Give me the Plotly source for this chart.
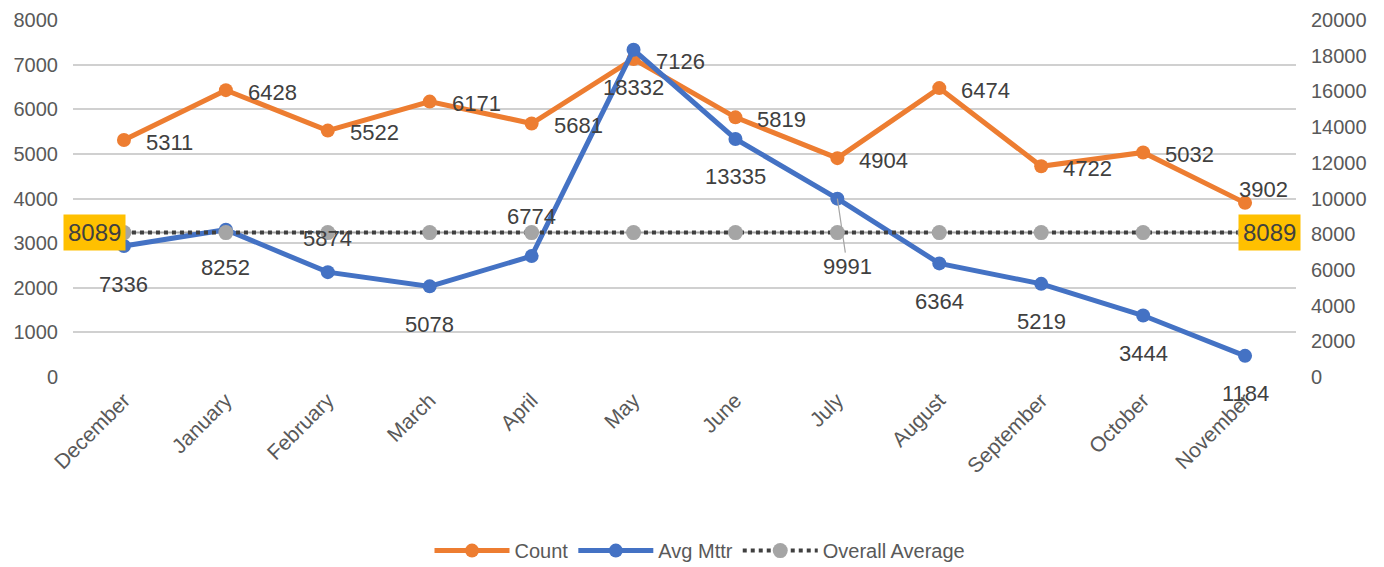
import plotly.graph_objects as go

months = ["December", "January", "February", "March", "April", "May", "June",
          "July", "August", "September", "October", "November"]
count = [5311, 6428, 5522, 6171, 5681, 7126, 5819, 4904, 6474, 4722, 5032, 3902]
avg_mttr = [7336, 8252, 5874, 5078, 6774, 18332, 13335, 9991, 6364, 5219, 3444, 1184]
overall_avg = [8089] * len(months)
left_ticks = [0, 1000, 2000, 3000, 4000, 5000, 6000, 7000, 8000]
right_ticks = [0, 2000, 4000, 6000, 8000, 10000, 12000, 14000, 16000, 18000, 20000]

ORANGE = "#ED7D31"
BLUE = "#4472C4"
GRAY = "#A5A5A5"
FONT = "Liberation Sans, Arial, sans-serif"
LABEL_FONT = dict(family=FONT, size=22, color="#404040")

fig = go.Figure()
fig.add_trace(go.Scatter(x=months, y=overall_avg, yaxis="y2", mode="lines",
                         line=dict(color=GRAY, width=2), showlegend=False, hoverinfo="skip"))
fig.add_trace(go.Scatter(x=months, y=count, name="Count", mode="lines+markers",
                         line=dict(color=ORANGE, width=5), marker=dict(size=14, color=ORANGE)))
fig.add_trace(go.Scatter(x=months, y=avg_mttr, name="Avg Mttr", yaxis="y2", mode="lines+markers",
                         line=dict(color=BLUE, width=5), marker=dict(size=14, color=BLUE)))
fig.add_trace(go.Scatter(x=months, y=overall_avg, name="Overall Average", yaxis="y2",
                         mode="lines+markers",
                         line=dict(color="#404040", width=4, dash="dot"),
                         marker=dict(size=15, color=GRAY)))

annotations = []
# Count labels
for i, (m, v) in enumerate(zip(months, count)):
    last = i == len(months) - 1
    ys = 13 if last else -2
    xs = -8 if last else 20
    annotations.append(dict(x=m, y=v, xref="x", yref="y", text=str(v), showarrow=False,
                            xanchor="left", yanchor="middle", xshift=xs, yshift=ys,
                            font=LABEL_FONT))
# Avg Mttr labels
above = {"February": 34, "April": 40}
for m, v in zip(months, avg_mttr):
    if m == "July":
        annotations.append(dict(x=m, y=v, xref="x", yref="y2", text=str(v), showarrow=True,
                                arrowhead=0, arrowwidth=1.2, arrowcolor=GRAY, ax=10, ay=68,
                                font=LABEL_FONT, standoff=0))
        continue
    ys = above.get(m, -38)
    annotations.append(dict(x=m, y=v, xref="x", yref="y2", text=str(v), showarrow=False,
                            yshift=ys, font=LABEL_FONT))
# Overall average boxes
for m, v, xs in [(months[0], overall_avg[0], -29), (months[-1], overall_avg[-1], 24)]:
    annotations.append(dict(x=m, y=v, xref="x", yref="y2", text=str(v), showarrow=False,
                            xshift=xs, bgcolor="#FFC000", borderpad=4,
                            font=dict(family=FONT, size=24, color="#404040")))

tick_font = dict(family=FONT, size=20, color="#595959")
fig.update_layout(
    width=1384, height=567,
    margin=dict(l=65, r=96, t=12, b=198, autoexpand=False),
    plot_bgcolor="white", paper_bgcolor="white",
    xaxis=dict(showgrid=False, tickangle=-45, ticks="", automargin=False,
               range=[-0.5, len(months) - 0.5], ticklabelstandoff=6,
               tickfont=dict(family=FONT, size=21, color="#595959"),
               showline=False),
    yaxis=dict(range=[0, 8000], tickvals=left_ticks, showgrid=True, gridcolor="#D0D0D0",
               gridwidth=2, zeroline=False, tickfont=tick_font, ticks="",
               ticklabelstandoff=14, automargin=False),
    yaxis2=dict(range=[0, 20000], tickvals=right_ticks, overlaying="y", side="right",
                showgrid=False, zeroline=False, tickfont=tick_font, ticks="",
                tickformat="d", ticklabelstandoff=14, automargin=False),
    legend=dict(orientation="h", x=0.5, xanchor="center", xref="container",
                y=0.043, yanchor="middle", yref="container",
                font=dict(family="Liberation Sans Narrow, Arial Narrow, Liberation Sans, sans-serif",
                          size=20, color="#595959"),
                itemwidth=75),
    annotations=annotations,
    showlegend=True,
)
fig.write_html("out.html")
